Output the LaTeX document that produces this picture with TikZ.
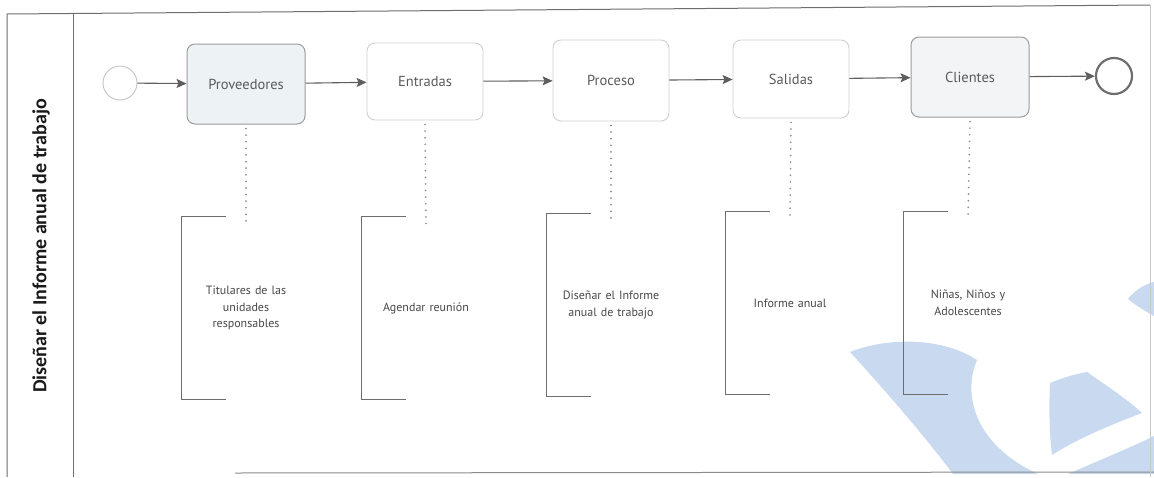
\documentclass[tikz,border=0pt]{standalone}
\usepackage{fontspec}
\setmainfont{PT Sans}
\newfontfamily\titlefont{Carlito}
\usetikzlibrary{arrows.meta}

\definecolor{framegray}{HTML}{6E6E6E}
\definecolor{edgegray}{HTML}{C8C8C8}
\definecolor{boxstrong}{HTML}{9C9C9C}
\definecolor{boxlight}{HTML}{D0D0D0}
\definecolor{flowgray}{HTML}{5E5E5E}
\definecolor{labelgray}{HTML}{5A5A5A}
\definecolor{notegray}{HTML}{484848}
\definecolor{provfill}{HTML}{EDF2F5}
\definecolor{clifill}{HTML}{F3F4F5}
\definecolor{markblue}{RGB}{200,217,240}

\tikzset{
  task/.style={draw=boxlight, line width=0.9pt, rounded corners=8pt, fill=white,
    minimum width=116pt, minimum height=78pt, inner sep=0pt,
    text=labelgray, font=\fontsize{14.5}{16}\selectfont},
  taskhi/.style={task, draw=boxstrong, line width=1pt},
  startev/.style={circle, draw=edgegray, line width=1pt, minimum size=34pt, inner sep=0pt},
  endev/.style={circle, draw=framegray, line width=2.2pt, minimum size=34pt, inner sep=0pt},
  flow/.style={draw=flowgray, line width=1.1pt,
    -{Stealth[length=10pt,width=9pt,inset=2pt]}},
  assoc/.style={draw=black!45, line width=1.8pt, line cap=round,
    dash pattern=on 0.1pt off 6.5pt},
  note/.style={minimum width=128pt, minimum height=183pt, inner sep=0pt,
    text width=118pt, align=center, text=notegray,
    font=\fontsize{12}{16.5}\selectfont},
  bracket/.style={draw=framegray, line width=1.1pt},
  frame/.style={draw=framegray, line width=1pt}
}

\begin{document}
\begin{tikzpicture}[x=1pt,y=-1pt]
  \useasboundingbox (0,0) rectangle (1154,477);
  \fill[white] (0,0) rectangle (1154,477);

  % faded logo mark in the lower right corner
  \begin{scope}[fill=markblue]
    \fill (850,352) .. controls (885,338) and (940,336) .. (977,360)
      .. controls (962,395) and (975,445) .. (1038,474)
      -- (953,474) .. controls (920,430) and (880,385) .. (850,352) -- cycle;
    \fill (1050,383) .. controls (1062,378) and (1075,374) .. (1087,372)
      .. controls (1110,388) and (1128,400) .. (1142,413)
      .. controls (1110,425) and (1075,440) .. (1052,455)
      .. controls (1049,430) and (1049,405) .. (1050,383) -- cycle;
    \fill (1068,474) .. controls (1095,462) and (1130,448) .. (1154,436)
      -- (1154,474) -- cycle;
    \fill (1128,299) .. controls (1135,290) and (1145,284) .. (1154,282)
      -- (1154,316) .. controls (1145,311) and (1135,305) .. (1128,299) -- cycle;
  \end{scope}

  % pool and lane frame
  \coordinate (poolTL) at (7,14);
  \coordinate (poolTR) at (1150,5);
  \coordinate (poolBL) at (7,477);
  \coordinate (laneT) at (73,13.5);
  \coordinate (laneB) at (73,477);
  \coordinate (baseL) at (235,473);
  \coordinate (baseR) at (1154,472);
  \draw[frame] (poolBL) -- (poolTL) -- (poolTR);
  \draw[frame] (laneT) -- (laneB);
  \draw[draw=framegray!80, line width=1pt] (baseL) -- (baseR);
  \draw[draw=edgegray, line width=0.8pt] (poolTR) -- (1150,477);

  % lane title
  \node[rotate=90, font=\titlefont\bfseries\fontsize{20}{22}\selectfont, text=black!90]
    (lane) at (41,246) {Diseñar el Informe anual de trabajo};

  % events and tasks
  \node[startev] (start) at (120,83) {};
  \node[taskhi, fill=provfill, minimum width=118pt, minimum height=80pt] (prov) at (246,84) {Proveedores};
  \node[task, minimum height=77pt] (entr) at (425,81.5) {Entradas};
  \node[task, minimum height=81pt] (proc) at (611,80.5) {Proceso};
  \node[task] (sal) at (791,79) {Salidas};
  \node[taskhi, fill=clifill, minimum width=118pt, minimum height=80pt] (cli) at (970,77) {Clientes};
  \node[endev, minimum size=36pt] (end) at (1114,76) {};

  % sequence flows
  \draw[flow] (start) -- (prov);
  \draw[flow] (prov) -- (entr);
  \draw[flow] (entr) -- (proc);
  \draw[flow] (proc) -- (sal);
  \draw[flow] (sal) -- (cli);
  \draw[flow] (cli) -- (end);

  % text annotations
  \node[note] (n1) at (246,308) {Titulares de las\\unidades\\responsables};
  \node[note] (n2) at (426,308) {Agendar reunión};
  \node[note] (n3) at (611,305) {Diseñar el Informe\\anual de trabajo};
  \node[note] (n4) at (790,303) {Informe anual};
  \node[note] (n5) at (968,303) {Niñas, Niños y\\Adolescentes};

  \foreach \n in {n1,n2,n3,n4,n5}{
    \draw[bracket] ([xshift=44pt]\n.north west) -- (\n.north west)
      -- (\n.south west) -- ([xshift=44pt]\n.south west);
  }

  % associations
  \draw[assoc] ([yshift=-4pt]prov.south) -- ([yshift=-8pt]n1.north);
  \draw[assoc] ([yshift=-4pt]entr.south) -- ([yshift=-8pt]n2.north);
  \draw[assoc] ([yshift=-4pt]proc.south) -- ([yshift=-8pt]n3.north);
  \draw[assoc] ([yshift=-4pt]sal.south) -- ([yshift=-8pt]n4.north);
  \draw[assoc] ([yshift=-4pt]cli.south) -- ([yshift=-8pt]n5.north);
\end{tikzpicture}
\end{document}
